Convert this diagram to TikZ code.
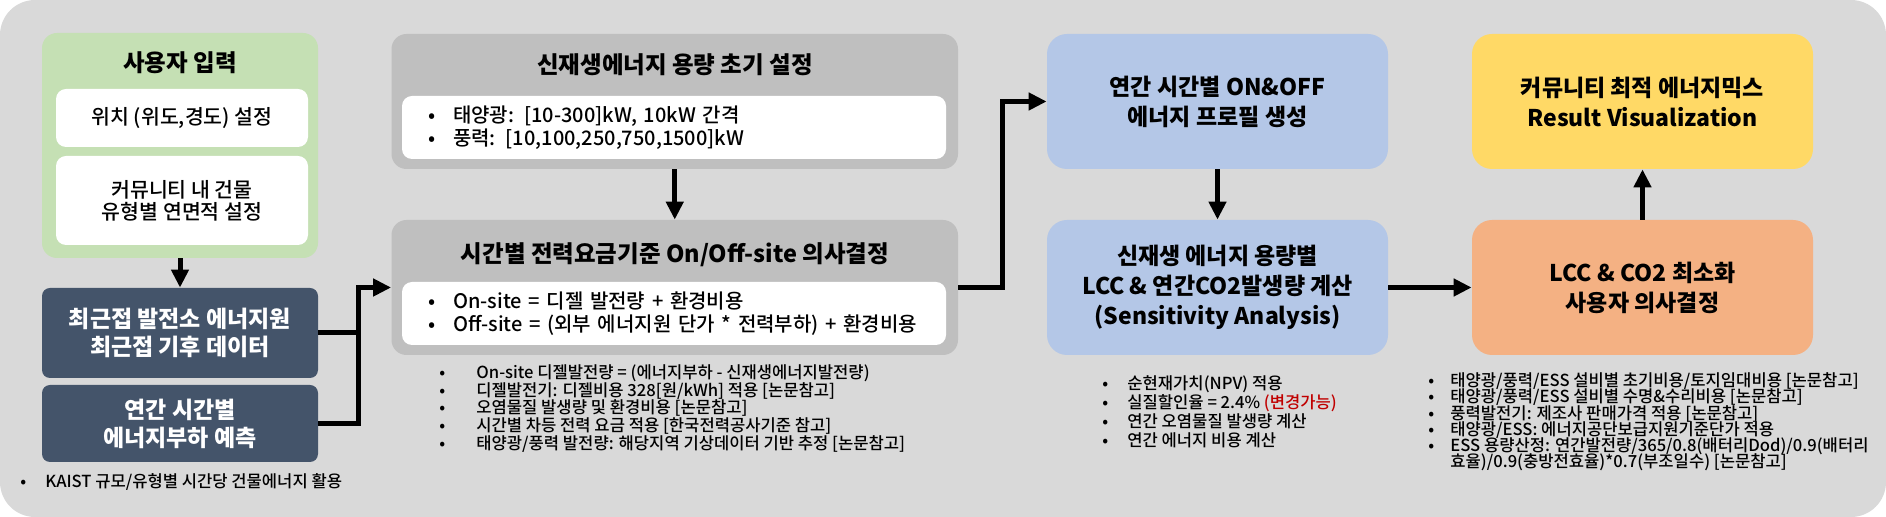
\documentclass[tikz,border=0pt]{standalone}
\usepackage{fontspec}
\setmainfont{Noto Sans CJK KR}
\newfontfamily\medfont{Noto Sans CJK KR Medium}
\usetikzlibrary{arrows.meta, positioning}
\definecolor{bggray}{HTML}{D9D9D9}
\definecolor{boxgray}{HTML}{BFBFBF}
\definecolor{mygreen}{HTML}{C5E0B4}
\definecolor{myslate}{HTML}{44546A}
\definecolor{myblue}{HTML}{B4C7E7}
\definecolor{myyellow}{HTML}{FFD966}
\definecolor{myorange}{HTML}{F4B183}
\definecolor{myred}{HTML}{C00000}
\newcommand{\bul}[1]{\makebox[#1][l]{•}}
\newcommand{\tightlines}{\lineskiplimit=-5pt\relax}
\tikzset{
  stage/.style={minimum width=170.5pt, minimum height=67.5pt, rounded corners=10pt,
    align=center, inner sep=0pt, font=\fontsize{11.5pt}{15pt}\selectfont\bfseries},
  panel/.style={minimum width=283.25pt, minimum height=67.5pt, rounded corners=7.5pt,
    fill=boxgray, inner sep=0pt},
  panelbody/.style={fill=white, rounded corners=5pt, minimum height=31.5pt,
    text width=246pt, inner xsep=13pt, inner ysep=0pt, align=left,
    font=\medfont\fontsize{10pt}{11.5pt}\selectfont},
  headline/.style={font=\fontsize{11.75pt}{14.5pt}\selectfont\bfseries, inner sep=0pt},
  databox/.style={fill=myslate, text=white, minimum width=138pt, rounded corners=4pt,
    align=center, inner sep=0pt, font=\fontsize{11.5pt}{14pt}\selectfont\bfseries},
  inputbox/.style={fill=white, minimum width=126pt, rounded corners=5pt, align=center,
    inner sep=0pt, font=\medfont\fontsize{10.25pt}{11pt}\selectfont},
  note/.style={anchor=west, align=left, inner sep=0pt},
  flow/.style={line width=2.5pt, -{Triangle[length=9pt,width=8.5pt]}},
  link/.style={line width=2.5pt}
}

\begin{document}
\begin{tikzpicture}[x=0.5pt, y=-0.5pt]
  \useasboundingbox (0,0) rectangle (1886,517);
  \fill[bggray, rounded corners=17.5pt] (0,0) rectangle (1886,517);

  % --- User input ---
  \node[fill=mygreen, rounded corners=7.5pt, minimum width=138pt, minimum height=112.5pt] (input) at (180,145.5) {};
  \node[headline] (inputtitle) at (180,63) {사용자 입력};
  \node[inputbox, minimum height=29pt] (loc) at (182,118) {위치 (위도,경도) 설정};
  \node[inputbox, minimum height=44.5pt] (area) at (182,200.5) {커뮤니티 내 건물\\유형별 연면적 설정};

  % --- Data sources ---
  \node[databox, minimum height=45pt] (plant) at (180,333) {최근접 발전소 에너지원\\최근접 기후 데이터};
  \node[databox, minimum height=38.5pt] (load) at (180,423.5) {연간 시간별\\에너지부하 예측};
  \node[note, font=\medfont\fontsize{8.3pt}{9pt}\selectfont] (loadnote) at (20,482) {\bul{12.5pt}KAIST 규모/유형별 시간당 건물에너지 활용};

  % --- Capacity setting and on/off-site decision ---
  \node[panel] (cap) at (674.75,101.5) {};
  \node[headline] (captitle) at (675,65) {신재생에너지 용량 초기 설정};
  \node[panelbody] (capbody) at (674,127.5) {\bul{12.5pt}태양광: [10-300]kW, 10kW 간격\\\bul{12.5pt}풍력: [10,100,250,750,1500]kW};

  \node[panel] (dec) at (674.75,287.5) {};
  \node[headline] (dectitle) at (675,255) {시간별 전력요금기준 On/Off-site 의사결정};
  \node[panelbody] (decbody) at (674,313.5) {\bul{12.5pt}On-site = 디젤 발전량 + 환경비용\\\bul{12.5pt}Off-site = (외부 에너지원 단가 * 전력부하) + 환경비용};
  \node[note, font=\medfont\fontsize{8.3pt}{8.85pt}\selectfont\tightlines] (decnote) at (439,408.5) {%
    \bul{18.5pt}On-site 디젤발전량 = (에너지부하 - 신재생에너지발전량)\\
    \bul{18.5pt}디젤발전기: 디젤비용 328[원/kWh] 적용 [논문참고]\\
    \bul{18.5pt}오염물질 발생량 및 환경비용 [논문참고]\\
    \bul{18.5pt}시간별 차등 전력 요금 적용 [한국전력공사기준 참고]\\
    \bul{18.5pt}태양광/풍력 발전량: 해당지역 기상데이터 기반 추정 [논문참고]};

  % --- Profiles and LCC ---
  \node[stage, fill=myblue] (prof) at (1217.5,101.5) {연간 시간별 ON\&OFF\\에너지 프로필 생성};
  \node[stage, fill=myblue] (lcc) at (1217.5,287.5) {신재생 에너지 용량별\\LCC \& 연간CO2발생량 계산\\(Sensitivity Analysis)};
  \node[note, font=\medfont\fontsize{8.3pt}{9.5pt}\selectfont\tightlines] (lccnote) at (1102,412) {%
    \bul{12.5pt}순현재가치(NPV) 적용\\
    \bul{12.5pt}실질할인율 = 2.4\% \textcolor{myred}{(변경가능)}\\
    \bul{12.5pt}연간 오염물질 발생량 계산\\
    \bul{12.5pt}연간 에너지 비용 계산};

  % --- Optimisation and result ---
  \node[stage, fill=myyellow] (mix) at (1642.5,101.5) {커뮤니티 최적 에너지믹스\\Result Visualization};
  \node[stage, fill=myorange] (opt) at (1642.5,287.5) {LCC \& CO2 최소화\\사용자 의사결정};
  \node[note, font=\medfont\fontsize{8.3pt}{8.1pt}\selectfont\tightlines] (optnote) at (1428,422) {%
    \bul{11pt}태양광/풍력/ESS 설비별 초기비용/토지임대비용 [논문참고]\\
    \bul{11pt}태양광/풍력/ESS 설비별 수명\&수리비용 [논문참고]\\
    \bul{11pt}풍력발전기: 제조사 판매가격 적용 [논문참고]\\
    \bul{11pt}태양광/ESS: 에너지공단보급지원기준단가 적용\\
    \bul{11pt}ESS 용량산정: 연간발전량/365/0.8(배터리Dod)/0.9(배터리\\
    \hspace*{11pt}효율)/0.9(충방전효율)*0.7(부조일수) [논문참고]};

  % --- Connectors ---
  \draw[flow] (input.south) -- (plant.north);
  \draw[link] (plant.east) -- ++(40,0);
  \draw[flow] (load.east) -- ++(40,0) |- (dec.west);
  \draw[flow] (cap.south) -- (dec.north);
  \draw[flow] (dec.east) -- ++(44,0) |- (prof.west);
  \draw[flow] (prof.south) -- (lcc.north);
  \draw[flow] (lcc.east) -- (opt.west);
  \draw[flow] (opt.north) -- (mix.south);
\end{tikzpicture}
\end{document}
